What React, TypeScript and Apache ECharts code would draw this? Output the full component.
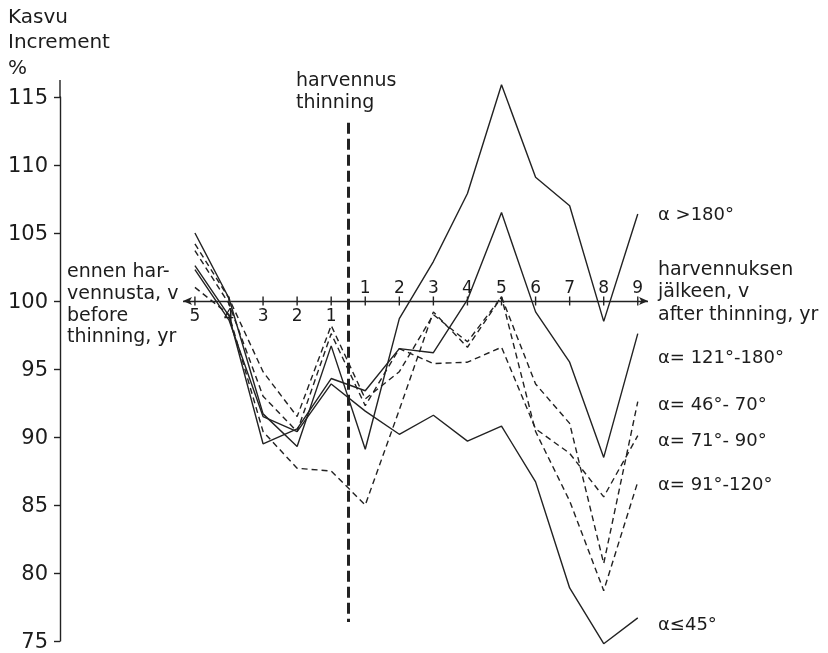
import React, { useEffect, useRef } from 'react';
import * as echarts from 'echarts';

// x positions: before thinning 5..1 -> 0..4, after thinning 1..9 -> 5..13
const positions = [0, 1, 2, 3, 4, 5, 6, 7, 8, 9, 10, 11, 12, 13];
const beforeTickLabels = ['5', '4', '3', '2', '1'];
const afterTickLabels = ['1', '2', '3', '4', '5', '6', '7', '8', '9'];
const thinningPos = 4.5;

// Increment, %
const alphaOver180 = [105.0, 100.2, 91.7, 89.3, 96.7, 89.1, 98.7, 102.9, 107.9, 115.9, 109.1, 107.0, 98.5, 106.4];
const alpha121to180 = [102.6, 98.9, 89.5, 90.6, 94.3, 93.4, 96.5, 96.2, 100.1, 106.5, 99.2, 95.5, 88.5, 97.6];
const alpha46to70 = [104.2, 100.2, 94.8, 91.5, 98.2, 92.8, 94.8, 99.0, 97.0, 100.3, 93.9, 91.0, 80.7, 92.6];
const alpha71to90 = [103.7, 99.8, 93.0, 90.4, 97.6, 92.3, 96.5, 95.4, 95.5, 96.6, 90.6, 88.8, 85.6, 90.1];
const alpha91to120 = [101.0, 99.0, 90.4, 87.7, 87.5, 85.0, 92.0, 99.2, 96.6, 100.3, 90.4, 85.3, 78.7, 86.7];
const alphaUpTo45 = [102.3, 98.6, 91.5, 90.4, 93.9, 91.9, 90.2, 91.6, 89.7, 90.8, 86.7, 78.9, 74.8, 76.7];

const seriesNames = ['α >180°', 'α= 121°-180°', 'α= 46°- 70°', 'α= 71°- 90°', 'α= 91°-120°', 'α≤45°'];
const seriesValues = [alphaOver180, alpha121to180, alpha46to70, alpha71to90, alpha91to120, alphaUpTo45];
const seriesDashed = [false, false, true, true, true, false];
const seriesLabelY = [213, 356, 403, 439, 483, 623];

const FONT = 'DejaVu Sans';
const INK = '#222';
const TEXT = '#1c1c1c';

export default function App() {
  const ref = useRef<HTMLDivElement>(null);
  useEffect(() => {
    document.body.style.margin = '0';
    const chart = echarts.init(ref.current!, null, { renderer: 'svg' });
    const mk = (vals: number[]) => positions.map((p, i) => [p, vals[i]]);

    const lineSeries = seriesValues.map((vals, k) => ({
      type: 'line',
      name: seriesNames[k],
      data: mk(vals),
      symbol: 'none',
      showSymbol: false,
      clip: false,
      silent: true,
      z: 3,
      lineStyle: { color: INK, width: 1.4, type: seriesDashed[k] ? [6, 4] : 'solid' },
    }));

    const txt = (text: string, x: number, y: number, size = 19) => ({
      type: 'text',
      style: { text, x, y, font: `${size}px "${FONT}"`, fill: TEXT, textVerticalAlign: 'middle' },
      silent: true,
    });

    const option: any = {
      animation: false,
      grid: { left: 183, right: 180, top: 97, bottom: 12 },
      xAxis: { type: 'value', min: -0.35, max: 13.3, show: false },
      yAxis: {
        type: 'value',
        min: 75,
        max: 115,
        interval: 5,
        offset: 123,
        axisLine: { show: true, onZero: false, lineStyle: { color: INK, width: 1.4 } },
        axisTick: { show: true, inside: false, length: 6, lineStyle: { color: INK, width: 1.4 } },
        axisLabel: { color: TEXT, fontSize: 21, fontFamily: FONT, margin: 12 },
        splitLine: { show: false },
      },
      series: [
        ...lineSeries,
        {
          type: 'scatter',
          name: 'before',
          data: beforeTickLabels.map((_, i) => [positions[i], 100]),
          symbol: 'rect',
          symbolSize: [1.4, 9],
          itemStyle: { color: INK, opacity: 1 },
          silent: true,
          z: 4,
          label: {
            show: true,
            position: 'bottom',
            distance: 1,
            formatter: (p: any) => beforeTickLabels[p.dataIndex],
            fontSize: 17,
            fontFamily: FONT,
            color: TEXT,
          },
          markLine: {
            silent: true,
            symbol: ['arrow', 'arrow'],
            symbolSize: [6, 9],
            label: { show: false },
            lineStyle: { color: INK, width: 1.4, type: 'solid' },
            data: [[{ coord: [-0.35, 100] }, { coord: [13.3, 100] }]],
          },
        },
        {
          type: 'scatter',
          name: 'after',
          data: afterTickLabels.map((_, i) => [positions[i + 5], 100]),
          symbol: 'rect',
          symbolSize: [1.4, 9],
          itemStyle: { color: INK, opacity: 1 },
          silent: true,
          z: 4,
          label: {
            show: true,
            position: 'top',
            distance: 1,
            formatter: (p: any) => afterTickLabels[p.dataIndex],
            fontSize: 17,
            fontFamily: FONT,
            color: TEXT,
          },
          markLine: {
            silent: true,
            symbol: ['none', 'none'],
            label: { show: false },
            lineStyle: { color: INK, width: 3, type: [11, 5] },
            data: [[{ coord: [thinningPos, 113.1] }, { coord: [thinningPos, 76.4] }]],
          },
        },
      ],
      graphic: [
        { type: 'line', shape: { x1: 60, y1: 80, x2: 60, y2: 97 }, style: { stroke: INK, lineWidth: 1.4 }, silent: true },
        txt('Kasvu', 8, 16, 20),
        txt('Increment', 8, 41, 20),
        txt('%', 8, 67, 20),
        txt('harvennus', 296, 79),
        txt('thinning', 296, 101),
        txt('ennen har-', 67, 270),
        txt('vennusta, v', 67, 292),
        txt('before', 67, 314),
        txt('thinning, yr', 67, 335),
        txt('harvennuksen', 658, 268),
        txt('jälkeen, v', 658, 290),
        txt('after thinning, yr', 658, 313),
        ...seriesNames.map((n, k) => txt(n, 658, seriesLabelY[k], 18)),
      ],
    };
    chart.setOption(option);
    return () => chart.dispose();
  }, []);
  return <div ref={ref} style={{ position: 'fixed', left: 0, top: 0, width: 828, height: 653 }} />;
}
